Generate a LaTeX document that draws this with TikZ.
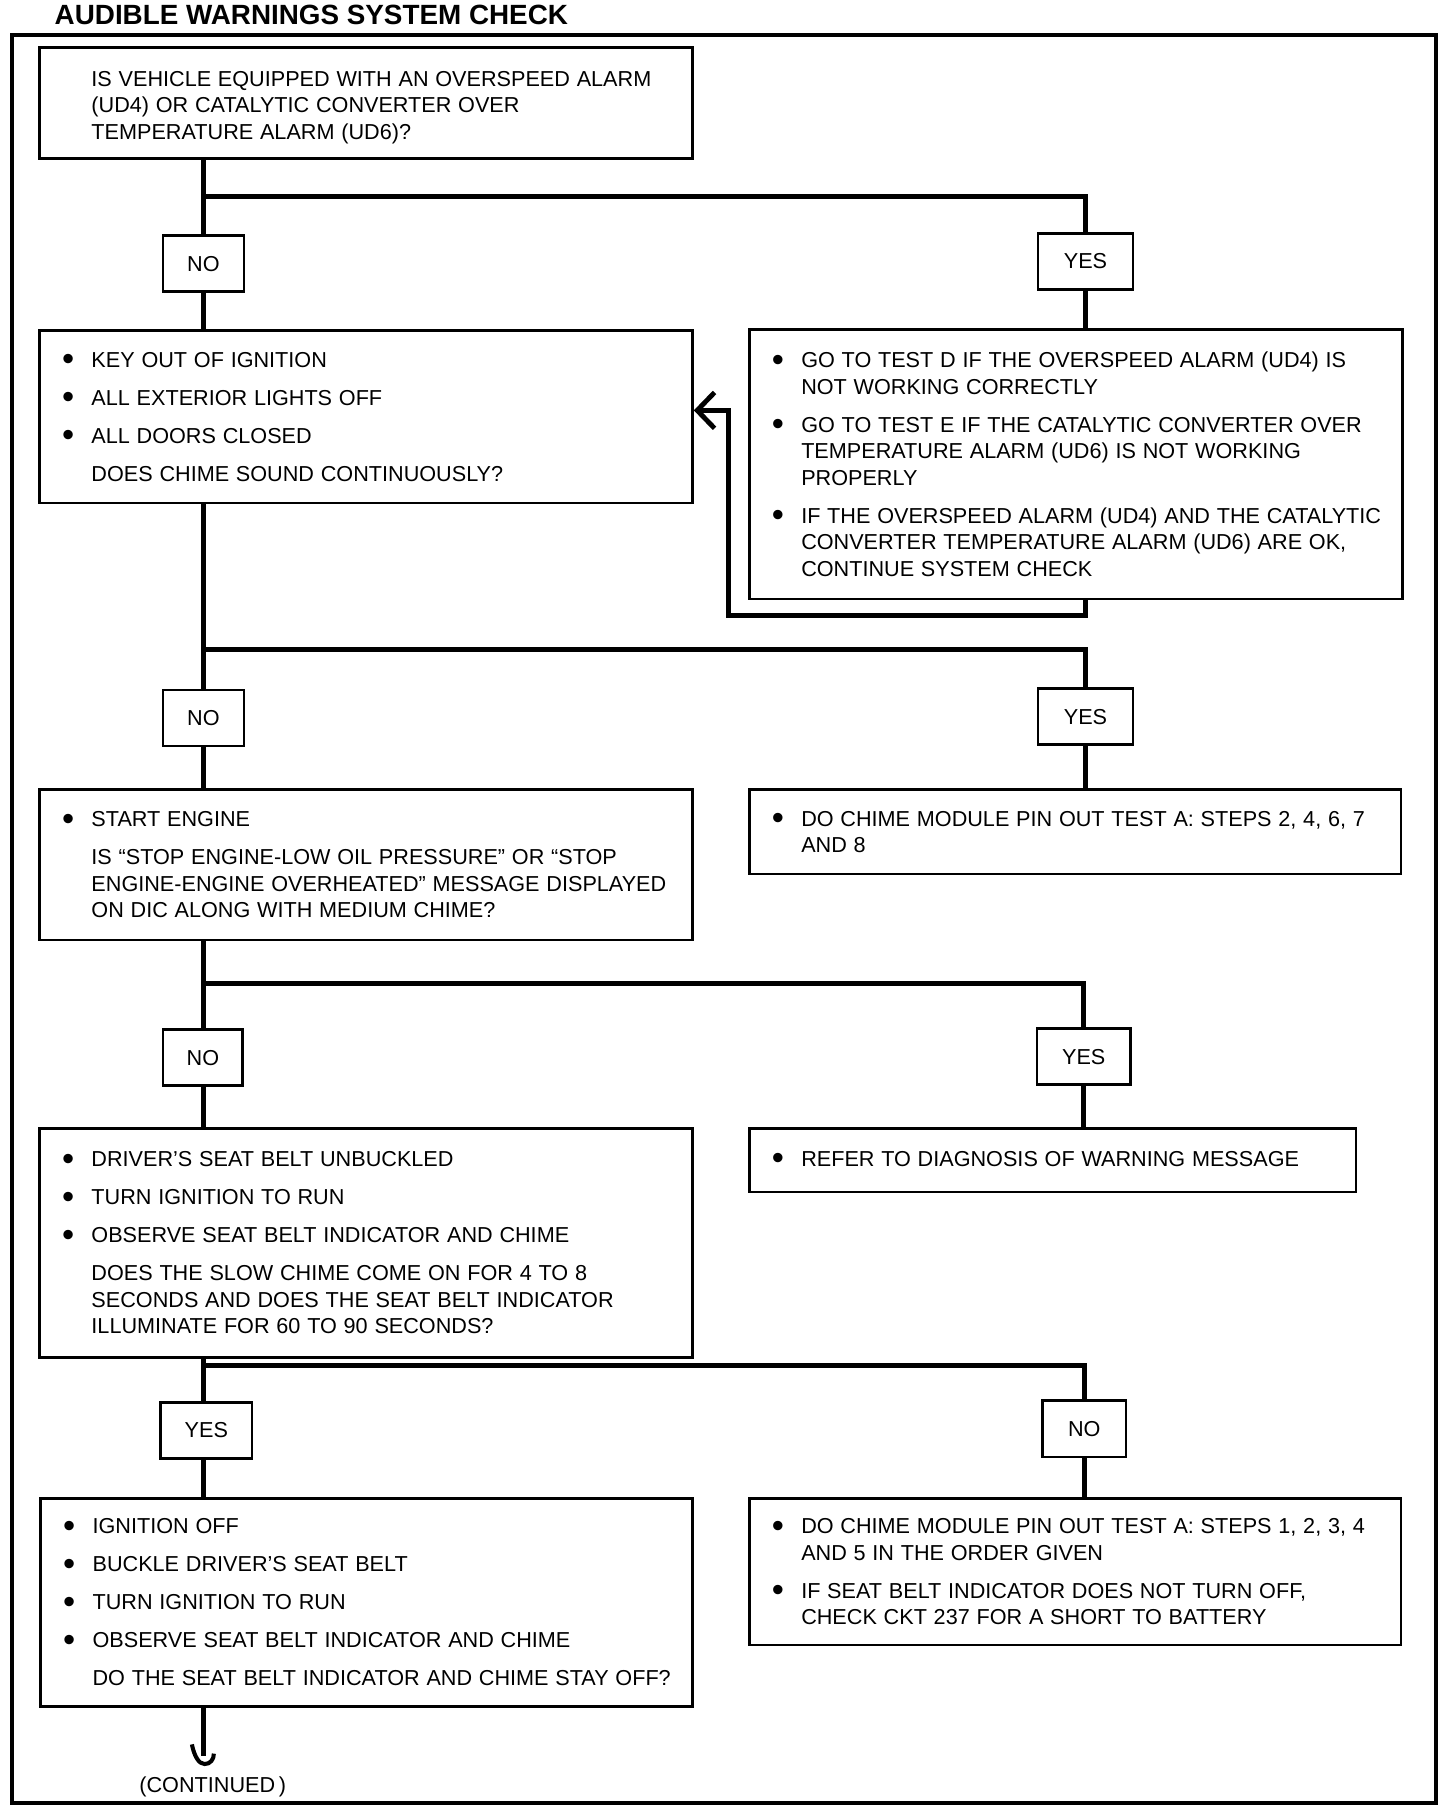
\documentclass[tikz,border=0pt]{standalone}
\usepackage{fontspec}
\setmainfont{Liberation Sans}
\usepackage{graphicx}
\usetikzlibrary{arrows.meta}

\newcommand\bul{\leavevmode\llap{\raisebox{-0.06cm}{\scalebox{1.6}{\textbullet}}\hspace{0.3cm}}}

\begin{document}
\begin{tikzpicture}[x=0.02cm, y=-0.02cm,
  box/.style={draw, line width=1.3pt, anchor=north west, inner sep=0pt,
    execute at begin node={\fontsize{10.65}{13.06}\selectfont\leftskip=0.9cm\rightskip=-2cm\parskip=0.2cm}},
  tag/.style={draw, line width=1.3pt, fill=white, inner sep=0pt, minimum height=0.97cm,
    font=\fontsize{10.65}{12.5}\selectfont},
  link/.style={line width=2.4pt}
  ]
  \useasboundingbox (0,0) rectangle (1259.5,1567.5);
  \draw[line width=2pt] (10,30) rectangle (1242,1560);
  \node[anchor=base west, inner sep=0pt, font=\bfseries\fontsize{13.7}{16}\selectfont] (title) at (47,21) {AUDIBLE WARNINGS SYSTEM CHECK};

  \node[box, text width=11.3cm, minimum height=1.92cm] (ask) at (33,40) {\rule{0pt}{0.41cm}IS VEHICLE EQUIPPED WITH AN OVERSPEED ALARM\newline
    (UD4) OR CATALYTIC CONVERTER OVER\newline
    TEMPERATURE ALARM (UD6)?};
  \node[box, text width=11.3cm, minimum height=2.98cm] (keys) at (33,285) {\bul KEY OUT OF IGNITION\par
    \bul ALL EXTERIOR LIGHTS OFF\par
    \bul ALL DOORS CLOSED\par
    DOES CHIME SOUND CONTINUOUSLY?};
  \node[box, text width=11.3cm, minimum height=4.66cm] (tests) at (647,284) {\bul GO TO TEST D IF THE OVERSPEED ALARM (UD4) IS\newline
    NOT WORKING CORRECTLY\par
    \bul GO TO TEST E IF THE CATALYTIC CONVERTER OVER\newline
    TEMPERATURE ALARM (UD6) IS NOT WORKING\newline
    PROPERLY\par
    \bul IF THE OVERSPEED ALARM (UD4) AND THE CATALYTIC\newline
    CONVERTER TEMPERATURE ALARM (UD6) ARE OK,\newline
    CONTINUE SYSTEM CHECK};
  \node[box, text width=11.3cm, minimum height=2.6cm] (engine) at (33,682) {\bul START ENGINE\par
    IS “STOP ENGINE-LOW OIL PRESSURE” OR “STOP\newline
    ENGINE-ENGINE OVERHEATED” MESSAGE DISPLAYED\newline
    ON DIC ALONG WITH MEDIUM CHIME?};
  \node[box, text width=11.28cm, minimum height=1.46cm] (pinA) at (647,682) {\bul DO CHIME MODULE PIN OUT TEST A: STEPS 2, 4, 6, 7\newline
    AND 8};
  \node[box, text width=11.3cm, minimum height=3.96cm] (belt) at (33,975) {\bul DRIVER’S SEAT BELT UNBUCKLED\par
    \bul TURN IGNITION TO RUN\par
    \bul OBSERVE SEAT BELT INDICATOR AND CHIME\par
    DOES THE SLOW CHIME COME ON FOR 4 TO 8\newline
    SECONDS AND DOES THE SEAT BELT INDICATOR\newline
    ILLUMINATE FOR 60 TO 90 SECONDS?};
  \node[box, text width=10.5cm, minimum height=1.1cm] (refer) at (647,975) {\bul REFER TO DIAGNOSIS OF WARNING MESSAGE};
  \node[box, text width=11.28cm, minimum height=3.6cm] (buckle) at (34,1295) {\bul IGNITION OFF\par
    \bul BUCKLE DRIVER’S SEAT BELT\par
    \bul TURN IGNITION TO RUN\par
    \bul OBSERVE SEAT BELT INDICATOR AND CHIME\par
    DO THE SEAT BELT INDICATOR AND CHIME STAY OFF?};
  \node[box, text width=11.28cm, minimum height=2.54cm] (pinB) at (647,1295) {\bul DO CHIME MODULE PIN OUT TEST A: STEPS 1, 2, 3, 4\newline
    AND 5 IN THE ORDER GIVEN\par
    \bul IF SEAT BELT INDICATOR DOES NOT TURN OFF,\newline
    CHECK CKT 237 FOR A SHORT TO BATTERY};

  \node[tag, minimum width=1.4cm] (no1) at (176,228) {NO};
  \node[tag, minimum width=1.64cm] (yes1) at (939,226) {YES};
  \node[tag, minimum width=1.4cm] (no2) at (176,621) {NO};
  \node[tag, minimum width=1.64cm] (yes2) at (939,620) {YES};
  \node[tag, minimum width=1.38cm] (no3) at (175.5,915) {NO};
  \node[tag, minimum width=1.62cm] (yes3) at (937.5,914) {YES};
  \node[tag, minimum width=1.58cm] (yes4) at (178.5,1237.5) {YES};
  \node[tag, minimum width=1.44cm] (no4) at (938,1236) {NO};

  \coordinate (j1) at (176,170);
  \coordinate (j2) at (176,562);
  \coordinate (j3) at (176,851);
  \coordinate (j4) at (176,1181);
  \coordinate (cut) at (176,1519);

  \draw[link] (ask.south -| j1) -- (no1.north);
  \draw[link] (no1.south) -- (keys.north -| j1);
  \draw[link] (j1) -| (yes1.north);
  \draw[link] (yes1.south) -- (tests.north -| yes1);
  \draw[link, -{Straight Barb[length=0.3cm, width=0.62cm]}] (tests.south -| yes1) -- ++(0,13) -| (630,355) -- (keys.east |- 0,355);

  \draw[link] (keys.south -| j2) -- (no2.north);
  \draw[link] (no2.south) -- (engine.north -| j2);
  \draw[link] (j2) -| (yes2.north);
  \draw[link] (yes2.south) -- (pinA.north -| yes2);

  \draw[link] (engine.south -| j3) -- (no3.north -| j3);
  \draw[link] (no3.south -| j3) -- (belt.north -| j3);
  \draw[link] (j3) -| (yes3.north);
  \draw[link] (yes3.south) -- (refer.north -| yes3);

  \draw[link] (belt.south -| j4) -- (yes4.north -| j4);
  \draw[link] (yes4.south -| j4) -- (buckle.north -| j4);
  \draw[link] (j4) -| (no4.north);
  \draw[link] (no4.south) -- (pinB.north -| no4);

  \draw[link] (buckle.south -| j4) -- (cut);
  \draw[line width=2pt] (166,1509) .. controls (168,1519) and (172,1526) .. (177,1526) .. controls (182,1526) and (185,1522) .. (185,1517);
  \node[font=\fontsize{10.65}{12.5}\selectfont] (cont) at (184,1546) {(CONTINUED\,)};
\end{tikzpicture}
\end{document}
